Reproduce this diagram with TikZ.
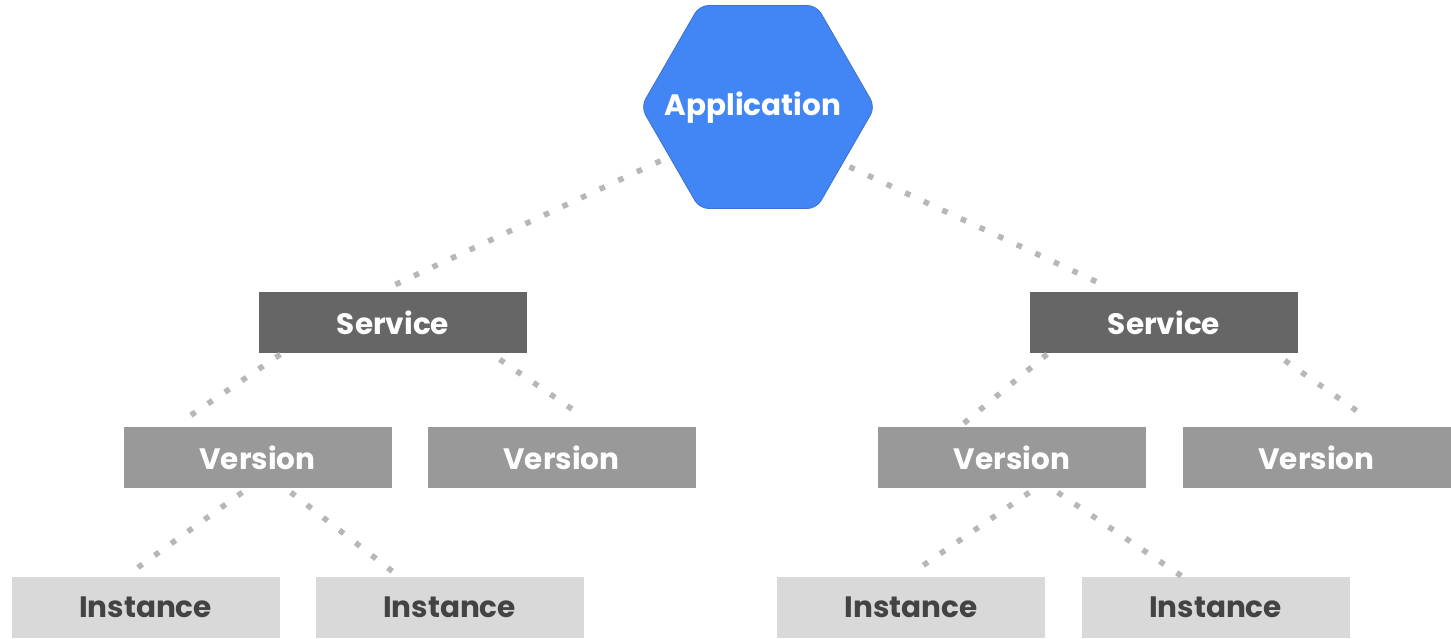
\documentclass[tikz,border=0pt]{standalone}
\usepackage{fontspec}
\setmainfont{Poppins}
\usetikzlibrary{shapes.geometric,decorations.markings}
\definecolor{appblue}{HTML}{4285F4}
\definecolor{appedge}{HTML}{3B6FD0}
\definecolor{svcgray}{HTML}{666666}
\definecolor{vergray}{HTML}{999999}
\definecolor{insgray}{HTML}{D9D9D9}
\definecolor{instext}{HTML}{434343}
\definecolor{dotgray}{HTML}{B7B7B7}
\tikzset{
  lbl/.style={font=\fontsize{29.5}{34}\selectfont\bfseries},
  svcbox/.style={lbl, fill=svcgray, text=white, minimum width=268, minimum height=61, inner sep=0, draw=none},
  verbox/.style={lbl, fill=vergray, text=white, minimum width=268, minimum height=61, inner sep=0, draw=none},
  insbox/.style={lbl, fill=insgray, text=instext, minimum width=268, minimum height=61, inner sep=0, draw=none},
  dotline/.style={decoration={markings, mark=between positions 0 and 1 step 20.5pt with {\fill[dotgray] (-2.8,-2.8) rectangle (2.8,2.8);}}, decorate},
}
\begin{document}
\begin{tikzpicture}[x=1pt,y=-1pt]
\useasboundingbox (0,0) rectangle (1451,638);
% hexagon
\node (app) at (758,107) {};
\filldraw[fill=appblue, draw=appedge, line width=0.8pt, rounded corners=9pt]
  (699.5,5.5) -- (816.5,5.5) -- (875,107) -- (816.5,208.5) -- (699.5,208.5) -- (641,107) -- cycle;
\node[lbl, text=white] (apptext) at (753,108) {Application};
% services
\node[svcbox] (s1) at (393,322.5) {Service};
\node[svcbox] (s2) at (1164,322.5) {Service};
% versions
\node[verbox] (v1) at (257.5,457.5) {Version};
\node[verbox] (v2) at (561.5,457.5) {Version};
\node[verbox] (v3) at (1012,457.5) {Version};
\node[verbox] (v4) at (1316.5,457.5) {Version};
% instances
\node[insbox] (i1) at (145.5,607.5) {Instance};
\node[insbox] (i2) at (449.5,607.5) {Instance};
\node[insbox] (i3) at (911,607.5) {Instance};
\node[insbox] (i4) at (1215.5,607.5) {Instance};
% connector end points
\coordinate (a1) at (658,162);
\coordinate (a2) at (852,168);
\coordinate (s1t) at (390,287);
\coordinate (s2t) at (1097,282);
\coordinate (s1l) at (278,356);
\coordinate (s1r) at (502,361);
\coordinate (s2l) at (1045,356);
\coordinate (s2r) at (1287,362);
\coordinate (v1t) at (178,424);
\coordinate (v2t) at (585,418);
\coordinate (v3t) at (963,424);
\coordinate (v4t) at (1367,418);
\coordinate (v1l) at (240,494);
\coordinate (v1r) at (293,494);
\coordinate (v3l) at (1027,494);
\coordinate (v3r) at (1060,494);
\coordinate (i1t) at (133,571);
\coordinate (i2t) at (397,575);
\coordinate (i3t) at (915,571);
\coordinate (i4t) at (1180,575);
\draw[dotline] (a1) -- (s1t);
\draw[dotline] (a2) -- (s2t);
\draw[dotline] (s1l) -- (v1t);
\draw[dotline] (s1r) -- (v2t);
\draw[dotline] (s2l) -- (v3t);
\draw[dotline] (s2r) -- (v4t);
\draw[dotline] (v1l) -- (i1t);
\draw[dotline] (v1r) -- (i2t);
\draw[dotline] (v3l) -- (i3t);
\draw[dotline] (v3r) -- (i4t);
\end{tikzpicture}
\end{document}
